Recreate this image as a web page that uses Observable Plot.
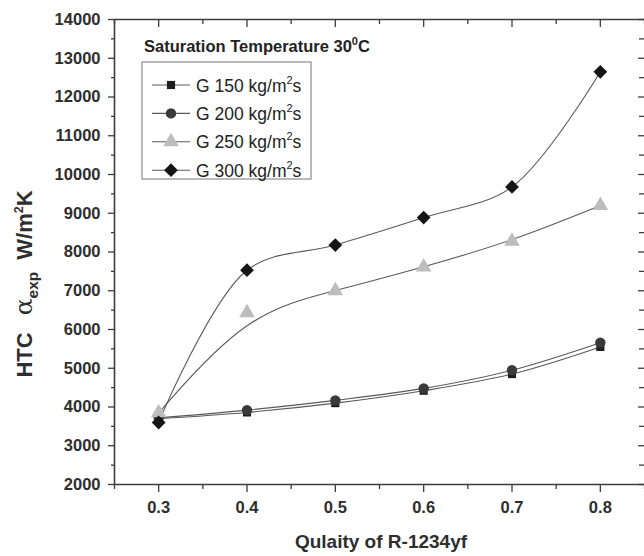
<!DOCTYPE html>
<html><head><meta charset="utf-8">
<script src="https://cdn.jsdelivr.net/npm/d3@7"></script>
<script src="https://cdn.jsdelivr.net/npm/@observablehq/plot@0.6"></script>
<style>body{margin:0;background:#fff} svg{display:block}</style>
</head><body><div id="chart"></div>
<script>
// Data
const quality = [0.3, 0.4, 0.5, 0.6, 0.7, 0.8];
const g150 = [3700, 3860, 4100, 4420, 4850, 5550];
const g200 = [3720, 3920, 4170, 4480, 4950, 5660];
const g250 = [3850, 6430, 7000, 7610, 8280, 9200];
const g300 = [3600, 7530, 8180, 8890, 9680, 12650];
const seriesLabels = ["G 150 kg/m", "G 200 kg/m", "G 250 kg/m", "G 300 kg/m"];
const xTicks = [0.3, 0.4, 0.5, 0.6, 0.7, 0.8];
const xMinor = [0.25, 0.35, 0.45, 0.55, 0.65, 0.75, 0.85];
const yTicks = [2000, 3000, 4000, 5000, 6000, 7000, 8000, 9000, 10000, 11000, 12000, 13000, 14000];
const yMinor = [2500, 3500, 4500, 5500, 6500, 7500, 8500, 9500, 10500, 11500, 12500, 13500];
const xDomain = [0.25, 0.85];
const yDomain = [2000, 14000];
const chartTitle = "Saturation Temperature 30";
const xTitle = "Qulaity of R-1234yf";

const styles = [
  {symbol: "square", fill: "#1e1e1e", r: 4.6, curve: "catmull-rom"},
  {symbol: "circle", fill: "#3a3a3a", r: 5.2, curve: "catmull-rom"},
  {symbol: "triangle", fill: "#bdbdbd", r: 5.8, curve: "basis"},
  {symbol: "diamond2", fill: "#151515", r: 6.2, curve: "catmull-rom"}
];
const seriesValues = [g150, g200, g250, g300];
const tables = seriesValues.map((vals, i) => quality.map((q, j) => ({q, v: vals[j], s: seriesLabels[i]})));

const W = 644, H = 556, mL = 114, mR = 0, mT = 19, mB = 72;
const plotW = W - mL - mR, plotH = H - mT - mB;
const axisColor = "#3c3c3c";
const lineColor = "#5a5a5a";
const ff = "'Liberation Sans', Arial, sans-serif";

const marks = [];
tables.forEach((t, i) => {
  marks.push(Plot.line(t, {x: "q", y: "v", stroke: lineColor, strokeWidth: 1.1, curve: styles[i].curve}));
});
tables.forEach((t, i) => {
  marks.push(Plot.dot(t, {x: "q", y: "v", symbol: () => styles[i].symbol, fill: styles[i].fill, stroke: "none", r: styles[i].r}));
});

const chart = Plot.plot({
  width: W,
  height: H,
  marginLeft: mL,
  marginRight: mR,
  marginTop: mT,
  marginBottom: mB,
  style: {fontFamily: ff, background: "#fff"},
  symbol: {type: "identity"},
  x: {domain: xDomain},
  y: {domain: yDomain},
  marks: [
    Plot.axisX({ticks: xTicks, tickSize: 8, tickPadding: 9, tickFormat: d => d.toFixed(1), fontSize: 16.5, fontWeight: "bold", fill: "#2e2e2e", stroke: axisColor, strokeWidth: 1.3, label: null}),
    Plot.axisX({ticks: xMinor, tickSize: 5, tickFormat: () => "", stroke: axisColor, strokeWidth: 1.3, label: null}),
    Plot.tickX(xTicks, {x: d => d, insetBottom: plotH - 8, stroke: axisColor, strokeWidth: 1.3}),
    Plot.tickX(xMinor, {x: d => d, insetBottom: plotH - 5, stroke: axisColor, strokeWidth: 1.3}),
    Plot.axisY({ticks: yTicks, tickSize: 6, tickPadding: 8, tickFormat: d => String(d), fontSize: 16.5, fontWeight: "bold", fill: "#2e2e2e", stroke: axisColor, strokeWidth: 1.3, label: null}),
    Plot.axisY({ticks: yMinor, tickSize: 3, tickFormat: () => "", stroke: axisColor, strokeWidth: 1.3, label: null}),
    Plot.tickY(yTicks, {y: d => d, insetLeft: plotW - 6, stroke: axisColor, strokeWidth: 1.3}),
    Plot.tickY(yMinor, {y: d => d, insetLeft: plotW - 5, stroke: axisColor, strokeWidth: 1.3}),
    Plot.ruleX([xDomain[0]], {stroke: axisColor, strokeWidth: 1.6}),
    Plot.ruleY(yDomain, {stroke: axisColor, strokeWidth: 1.6}),
    ...marks
  ]
});
document.getElementById("chart").appendChild(chart);

const svg = d3.select(chart);
// X title
svg.append("text").attr("x", 381).attr("y", 548).attr("text-anchor", "middle")
  .attr("font-family", ff).attr("font-size", 19).attr("font-weight", "bold").attr("fill", "#2e2e2e").text(xTitle);
// Y title
const yl = svg.append("text").attr("transform", "translate(32,284) rotate(-90)").attr("text-anchor", "middle")
  .attr("font-family", ff).attr("font-size", 22).attr("font-weight", "bold").attr("fill", "#2e2e2e");
yl.append("tspan").text("HTC");
yl.append("tspan").attr("dx", 17).attr("font-weight", "normal").attr("font-family", "'DejaVu Serif', serif").attr("font-size", 25).text("α");
yl.append("tspan").attr("dy", 6).attr("font-size", 15.5).text("exp");
yl.append("tspan").attr("dy", -6).attr("dx", 12).text("W/m");
yl.append("tspan").attr("dy", -9).attr("font-size", 12.5).text("2");
yl.append("tspan").attr("dy", 9).text("K");

// Chart title inside plot
const tt = svg.append("text").attr("x", 144).attr("y", 52).attr("text-anchor", "start").attr("font-family", ff)
  .attr("font-size", 16.5).attr("font-weight", "bold").attr("fill", "#222");
tt.append("tspan").text(chartTitle);
tt.append("tspan").attr("dy", -7).attr("font-size", 11).text("0");
tt.append("tspan").attr("dy", 7).text("C");

// Legend
const lg = svg.append("g");
lg.append("rect").attr("x", 142).attr("y", 62).attr("width", 169).attr("height", 117)
  .attr("fill", "#fff").attr("stroke", "#777").attr("stroke-width", 1);
const symMap = {square: d3.symbolSquare, circle: d3.symbolCircle, triangle: d3.symbolTriangle, diamond2: d3.symbolDiamond2};
seriesLabels.forEach((lab, i) => {
  const cy = 85 + i * 28.4;
  lg.append("line").attr("x1", 152).attr("x2", 190).attr("y1", cy).attr("y2", cy).attr("stroke", lineColor).attr("stroke-width", 1.1);
  const r = styles[i].r;
  lg.append("path").attr("transform", `translate(171,${cy})`)
    .attr("d", d3.symbol(symMap[styles[i].symbol], Math.PI * r * r)()).attr("fill", styles[i].fill);
  const t = lg.append("text").attr("x", 196).attr("y", cy + 6.5).attr("text-anchor", "start").attr("font-family", ff).attr("font-size", 17.5).attr("fill", "#222");
  t.append("tspan").text(lab);
  t.append("tspan").attr("dy", -8).attr("font-size", 11).text("2");
  t.append("tspan").attr("dy", 8).text("s");
});
</script>
</body></html>
